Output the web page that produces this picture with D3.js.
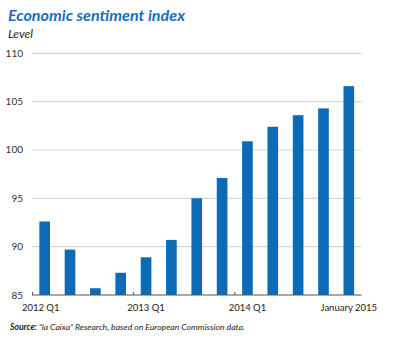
<!DOCTYPE html>
<html><head><meta charset="utf-8">
<script src="https://cdn.jsdelivr.net/npm/d3@7"></script>
<style>body{margin:0;background:#fff}svg{display:block}</style>
</head><body>
<svg id="c" width="395" height="338"></svg>
<script>
const categories = ["2012 Q1","2012 Q2","2012 Q3","2012 Q4","2013 Q1","2013 Q2","2013 Q3","2013 Q4","2014 Q1","2014 Q2","2014 Q3","2014 Q4","January 2015"];
const values = [92.6, 89.7, 85.7, 87.3, 88.9, 90.7, 95.0, 97.1, 100.9, 102.4, 103.6, 104.3, 106.6];
const yTicks = [85, 90, 95, 100, 105, 110];
const xLabels = ["2012 Q1","2013 Q1","2014 Q1","January 2015"];
const tickBoundaries = ["2012 Q1","2013 Q1","2014 Q1"];

const svg = d3.select("#c");
const font = "Lato, 'Open Sans', sans-serif";
const x = d3.scaleBand().domain(categories).range([32, 361.5]).paddingInner(0.58).paddingOuter(0.29);
const y = d3.scaleLinear().domain([85, 110]).range([295, 53.3]);

// title
svg.append("text").attr("x", 8).attr("y", 21).attr("font-family", font)
  .attr("font-weight", "bold").attr("font-style", "italic").attr("font-size", 15.5)
  .attr("fill", "#1a6fb7").attr("textLength", 177).attr("lengthAdjust", "spacingAndGlyphs")
  .text("Economic sentiment index");
svg.append("text").attr("x", 8).attr("y", 37.5).attr("font-family", font)
  .attr("font-style", "italic").attr("font-size", 12).attr("fill", "#222")
  .text("Level");

// grid
svg.append("g").selectAll("line").data(yTicks.filter(d => d > 85)).join("line")
  .attr("x1", 32).attr("x2", 361.5).attr("y1", d => y(d)).attr("y2", d => y(d))
  .attr("stroke", "#d6d6d6").attr("stroke-width", 1.2);

// y labels
svg.append("g").selectAll("text").data(yTicks).join("text")
  .attr("x", 23).attr("y", d => y(d) + 3.5).attr("text-anchor", "end")
  .attr("font-family", font).attr("font-size", 10).attr("fill", "#333")
  .text(d => d);

// bars
svg.append("g").selectAll("rect").data(values).join("rect")
  .attr("x", (d, i) => x(categories[i])).attr("width", x.bandwidth())
  .attr("y", d => y(d)).attr("height", d => y(85) - y(d))
  .attr("fill", "#0a6cb6");

// x axis
svg.append("line").attr("x1", 32).attr("x2", 361.5).attr("y1", 295).attr("y2", 295)
  .attr("stroke", "#555").attr("stroke-width", 1);
const step = x.step();
const tickX = d => (d === categories[0] ? 32.5 : x(d) - x.paddingInner() * step / 2);
svg.append("g").selectAll("line").data(tickBoundaries).join("line")
  .attr("x1", tickX).attr("x2", tickX)
  .attr("y1", 292).attr("y2", 295).attr("stroke", "#555");
svg.append("g").selectAll("text").data(xLabels).join("text")
  .attr("x", (d, i) => x(d) + x.bandwidth() / 2 + (i === 0 ? -4 : 0)).attr("y", 311)
  .attr("text-anchor", "middle").attr("font-family", font).attr("font-size", 9.5).attr("fill", "#222")
  .text(d => d);

// source
const src = svg.append("text").attr("x", 10).attr("y", 329.5).attr("font-family", font)
  .attr("font-style", "italic").attr("font-size", 8.5).attr("fill", "#222")
  .attr("textLength", 235).attr("lengthAdjust", "spacingAndGlyphs");
src.append("tspan").attr("font-weight", "bold").text("Source: ");
src.append("tspan").text("“la Caixa” Research, based on European Commission data.");
</script>
</body></html>
